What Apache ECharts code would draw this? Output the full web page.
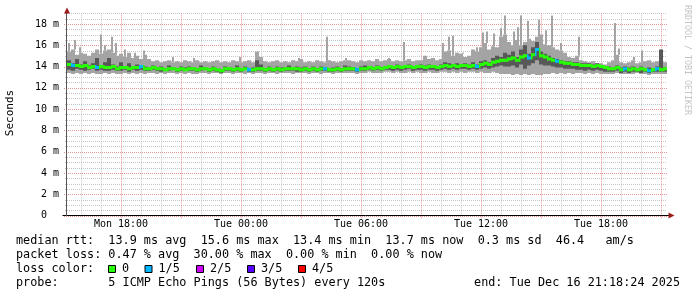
<!DOCTYPE html>
<html><head><meta charset="utf-8">
<script src="https://cdn.jsdelivr.net/npm/echarts@6/dist/echarts.min.js"></script>
<style>html,body{margin:0;padding:0;background:#fff}#c{width:697px;height:297px}</style>
</head><body><div id="c"></div>
<script>
// ---------------- data ----------------
// one sample per 12 minutes (4 pixel columns of 3 minutes)
const MEDIAN = [
14.2,14.1,14.1,14.0,14.1,13.9,14.0,13.9,14.0,13.9,
13.9,14.0,13.8,13.9,13.9,13.8,13.9,13.9,14.0,13.8,
13.8,13.9,13.8,13.8,13.7,13.8,13.8,13.7,13.8,13.7,
13.8,13.8,13.7,13.8,13.8,13.7,13.8,13.7,13.6,13.8,
13.8,13.7,13.8,13.7,13.8,13.7,13.7,13.8,13.8,13.7,
13.8,13.7,13.8,13.7,13.8,13.8,13.8,13.8,13.7,13.8,
13.7,13.8,13.7,13.8,13.8,13.7,13.7,13.8,13.7,13.8,
13.8,13.8,13.7,13.8,13.8,13.9,13.8,13.9,13.8,13.9,
14.0,13.9,14.0,13.9,14.0,14.0,13.9,14.0,14.0,13.9,
14.0,14.0,13.9,14.0,14.1,14.0,14.1,14.0,14.1,14.1,
14.0,14.1,14.0,14.2,14.3,14.2,14.4,14.5,14.6,14.6,
14.7,14.8,14.6,14.9,15.0,14.8,15.1,15.6,15.0,14.9,
14.7,14.6,14.5,14.4,14.3,14.3,14.2,14.2,14.1,14.1,
14.1,14.0,14.1,14.0,13.9,13.8,13.8,13.9,13.7,13.8,
13.7,13.8,13.7,13.8,13.7,13.6,13.7,13.8,13.7,13.8];
const LOW = [
13.4,13.3,13.4,13.3,13.4,13.3,13.4,13.3,13.3,13.4,
13.3,13.4,13.3,13.3,13.4,13.3,13.4,13.3,13.4,13.3,
13.4,13.4,13.3,13.4,13.3,13.4,13.4,13.3,13.4,13.3,
13.4,13.3,13.3,13.4,13.4,13.3,13.4,13.4,13.3,13.4,
13.4,13.3,13.4,13.4,13.3,13.4,13.3,13.4,13.4,13.3,
13.4,13.4,13.3,13.4,13.4,13.4,13.3,13.4,13.4,13.4,
13.3,13.4,13.4,13.3,13.4,13.4,13.3,13.4,13.4,13.4,
13.4,13.4,13.3,13.4,13.4,13.5,13.4,13.4,13.4,13.5,
13.5,13.4,13.5,13.4,13.4,13.5,13.4,13.5,13.4,13.4,
13.5,13.4,13.4,13.5,13.5,13.4,13.5,13.4,13.5,13.4,
13.5,13.5,13.4,13.5,13.4,13.4,13.5,13.4,13.3,13.3,
13.3,13.2,13.3,13.2,13.3,13.2,13.3,13.2,13.2,13.3,
13.3,13.4,13.3,13.4,13.3,13.4,13.3,13.4,13.4,13.3,
13.4,13.3,13.4,13.3,13.3,13.3,13.3,13.4,13.3,13.3,
13.3,13.3,13.4,13.3,13.3,13.2,13.3,13.3,13.3,13.3];
const HIGH = [
15.4,15.6,15.1,15.3,15.2,15.0,15.3,15.6,15.2,15.5,
15.6,15.3,15.0,15.2,14.9,15.3,14.8,15.0,14.7,15.1,
14.7,14.5,14.6,14.4,14.5,14.6,14.4,14.5,14.4,14.6,
14.5,14.4,14.6,14.4,14.5,14.4,14.5,14.6,14.4,14.5,
14.4,14.6,14.5,14.4,14.5,14.6,14.4,15.4,14.9,14.5,
14.4,14.5,14.6,14.4,14.5,14.4,14.6,14.5,14.7,14.4,
14.5,14.4,14.6,14.5,14.4,14.6,14.5,14.4,14.5,14.6,
14.6,14.5,14.4,14.6,14.5,14.6,14.5,14.7,14.5,14.6,
14.7,14.5,14.6,14.5,14.6,14.7,14.5,14.6,14.6,15.0,
14.7,14.8,14.6,14.7,15.4,15.5,15.0,15.3,15.2,14.9,
15.0,15.6,15.4,15.8,16.2,15.6,15.9,15.8,16.8,17.0,
16.3,16.0,16.5,16.0,16.3,16.6,16.4,16.8,17.0,16.1,
16.0,15.8,15.6,15.5,15.3,14.9,14.8,15.0,14.6,14.5,
14.4,14.5,14.3,14.3,14.2,14.4,14.6,15.1,14.4,14.3,
14.4,14.6,14.3,14.4,14.5,14.6,14.4,14.5,14.6,14.4];
const DARK_LO = [
13.7,13.6,13.8,13.7,13.6,13.7,13.8,13.6,13.7,13.6,
13.6,13.7,13.6,13.6,13.7,13.5,13.7,13.6,13.7,13.6,
13.6,13.7,13.6,13.5,13.6,13.6,13.7,13.5,13.6,13.6,
13.6,13.6,13.5,13.6,13.7,13.5,13.6,13.5,13.4,13.6,
13.6,13.5,13.6,13.5,13.7,13.5,13.5,13.6,13.6,13.5,
13.6,13.5,13.6,13.5,13.6,13.6,13.6,13.5,13.5,13.6,
13.5,13.6,13.5,13.6,13.6,13.5,13.5,13.6,13.5,13.6,
13.6,13.6,13.5,13.6,13.6,13.7,13.6,13.7,13.6,13.7,
13.7,13.6,13.7,13.6,13.7,13.8,13.6,13.7,13.7,13.6,
13.7,13.7,13.6,13.7,13.8,13.7,13.8,13.7,13.8,13.8,
13.7,13.8,13.7,13.8,13.9,13.8,13.9,14.0,14.1,14.0,
14.0,14.1,13.9,14.2,13.8,14.1,14.3,14.6,14.2,14.1,
14.1,14.0,13.9,13.9,13.8,13.8,13.8,13.7,13.7,13.6,
13.7,13.6,13.7,13.6,13.5,13.5,13.5,13.6,13.4,13.5,
13.4,13.5,13.5,13.4,13.5,13.4,13.5,13.5,13.5,13.5];
const DARK_HI = [
14.6,14.3,14.7,14.2,14.5,14.1,14.3,14.8,14.1,14.4,
14.8,14.2,14.0,14.4,14.0,14.3,14.0,14.2,14.1,14.0,
13.9,14.1,13.9,14.0,13.8,14.1,13.9,13.8,14.0,13.9,
14.0,13.9,13.8,14.1,13.9,13.8,14.0,13.8,13.7,14.0,
13.9,13.8,14.1,13.8,14.0,13.8,13.9,14.6,14.2,13.8,
14.0,13.8,14.0,13.9,13.9,14.1,13.9,14.0,13.9,14.0,
13.8,14.0,13.8,14.0,13.9,13.8,13.9,14.0,13.8,14.1,
14.0,13.9,13.8,14.0,14.1,14.0,13.9,14.1,13.9,14.0,
14.1,14.0,14.2,14.0,14.1,14.2,14.0,14.1,14.2,14.1,
14.2,14.1,14.0,14.2,14.4,14.3,14.2,14.3,14.2,14.3,
14.2,14.4,14.2,14.5,14.6,14.4,14.8,15.0,14.9,15.3,
15.1,15.4,14.9,15.6,16.0,15.2,15.8,16.3,15.4,15.2,
15.0,14.8,14.7,14.6,14.5,14.5,14.4,14.4,14.3,14.3,
14.3,14.2,14.3,14.1,14.0,14.0,13.9,14.1,13.9,14.0,
13.9,14.0,13.8,14.0,13.8,13.9,13.8,14.0,15.6,13.9];
// samples where pings were lost (count of 5)
const LOSS_AT    = [1,7,18,45,64,72,102,115,117,122,139,145,147];
const LOSS_COUNT = [1,1,1,1,1,1,1,1,1,1,1,1,1];
// narrow spikes of the smoke: pixel column (3 min each) and top value (ms)
const SPIKE_COL = [1,7,12,33,37,44,48,57,67,76,105,126,172,189,231,259,278,321,336,359,375,381,385,395,409,415,419,426,433,437,446,450,453,460,471,478,484,493,511,547,551,566,574];
const SPIKE_TOP = [16.2,16.5,15.8,17.0,16.0,16.8,16.2,15.6,15.3,15.5,14.9,14.8,14.9,15.4,14.8,16.8,14.8,14.8,16.3,15.0,16.2,16.8,16.9,15.3,15.8,17.2,17.3,17.1,17.6,18.8,17.3,17.7,18.8,18.3,18.4,17.4,18.8,16.2,16.8,18.1,15.7,14.9,15.5];

const X_TICK_LABELS = ['Mon 18:00','Tue 00:00','Tue 06:00','Tue 12:00','Tue 18:00'];
const LOSS_LEGEND = ['0','1/5','2/5','3/5','4/5'];
const LOSS_COLORS = ['#26ff00','#00b8ff','#cc00ff','#5500ff','#ff0000'];
const STAT_LINES = [
 'median rtt:  13.9 ms avg  15.6 ms max  13.4 ms min  13.7 ms now  0.3 ms sd  46.4   am/s',
 'packet loss: 0.47 % avg  30.00 % max  0.00 % min  0.00 % now',
 'loss color:',
 'probe:       5 ICMP Echo Pings (56 Bytes) every 120s'
];
const END_TEXT = 'end: Tue Dec 16 21:18:24 2025';
const Y_TITLE = 'Seconds';
const WATERMARK = 'RRDTOOL / TOBI OETIKER';

// ---------------- time axis (pixel columns) ----------------
const DAYS = ['Mon','Tue','Wed'];
const START_MIN = 15*60 + 18.4;   // Mon 15:18:24
const COL_MIN = 3;                // minutes per column
const N_COLS = 601;
const SAMPLE_COLS = 4;
const Y_MAX = 19, Y_MINOR = 0.5, Y_MAJOR = 2;
const CATS = [];
for (let k = 0; k < N_COLS; k++) {
  const t = Math.floor(START_MIN + COL_MIN*k);
  const d = Math.floor(t/1440), h = Math.floor((t%1440)/60), m = t%60;
  CATS.push(DAYS[d] + ' ' + String(h).padStart(2,'0') + ':' + String(m).padStart(2,'0'));
}
const hm = v => v.slice(4).split(':').map(Number);
const isHour = (i,v) => hm(v)[1] === 0;
const is3h = (i,v) => { const [h,m] = hm(v); return m === 0 && h % 3 === 0; };
const isMinorHour = (i,v) => isHour(i,v) && !is3h(i,v);
const isLabel = (i,v) => X_TICK_LABELS.includes(v);

// grid lines, derived from the axes
const VGRID = [];
CATS.forEach((v,i) => { if (isHour(i,v)) VGRID.push([i, is3h(i,v) ? 1 : 0]); });
const HGRID = [];
for (let j = 0; j * Y_MINOR <= Y_MAX + 1e-9; j++) {
  const v = j * Y_MINOR;
  HGRID.push([v, Math.abs(v / Y_MAJOR - Math.round(v / Y_MAJOR)) < 1e-9 && v < Y_MAX ? 1 : 0]);
}

// ---------------- layout ----------------
const L = 67, W = 600, Y0 = 215.5, PXM = 10.642;
const MONO = '"DejaVu Sans Mono", monospace';
const TXT_FONT = '11.8px ' + MONO;
const GRAY_GRID = '#c6c6c6', RED_GRID = '#e89494';

const lossMap = {};
LOSS_AT.forEach((i,j) => lossMap[i] = LOSS_COUNT[j]);
const smokeData = MEDIAN.map((m,i) => [i*SAMPLE_COLS, LOW[i], HIGH[i], DARK_LO[i], DARK_HI[i], m, lossMap[i] || 0]);
const spikeData = SPIKE_COL.map((c,j) => [c, HIGH[Math.min(HIGH.length-1, Math.floor(c/SAMPLE_COLS))], SPIKE_TOP[j]]);

function renderSmoke(params, api) {
  const k = api.value(0);
  const x0 = api.coord([k, 0])[0], x1 = api.coord([k + SAMPLE_COLS, 0])[0];
  const y = v => api.coord([k, v])[1];
  const w = x1 - x0;
  const lo = y(api.value(1)), hi = y(api.value(2));
  const dlo = y(api.value(3)), dhi = y(api.value(4));
  const ym = y(api.value(5));
  const col = LOSS_COLORS[api.value(6)];
  const ch = [
    {type:'rect', shape:{x:x0, y:hi, width:w, height:lo-hi}, style:{fill:'#a4a4a4'}},
    {type:'rect', shape:{x:x0, y:dhi, width:w, height:dlo-dhi}, style:{fill:'#585858'}},
  ];
  const i = params.dataIndex;
  if (i > 0) {
    const yp = y(MEDIAN[i-1]);
    ch.push({type:'rect', shape:{x:x0, y:Math.min(yp,ym)-1.5, width:1.5, height:Math.abs(yp-ym)+3}, style:{fill:col}});
  }
  ch.push({type:'rect', shape:{x:x0, y:ym-1.5, width:w, height:3}, style:{fill:col}});
  return {type:'group', children: ch};
}
function renderSpike(params, api) {
  const k = api.value(0);
  const p0 = api.coord([k, api.value(1)]), p1 = api.coord([k, api.value(2)]);
  return {type:'rect', shape:{x:p0[0], y:p1[1], width:2, height:Math.max(0, p0[1]-p1[1])}, style:{fill:'#a4a4a4'}};
}
function renderVGrid(params, api) {
  const k = api.value(0), major = api.value(1);
  const pb = api.coord([k, 0]), pt = api.coord([k, Y_MAX]);
  const x = Math.round(pb[0]) + 0.5;
  return {type:'line', shape:{x1:x, y1:pt[1], x2:x, y2:pb[1] + (major ? 3 : 2)},
    style:{stroke: major ? RED_GRID : GRAY_GRID, lineWidth:1, lineDash:[1,1]}};
}
function renderHGrid(params, api) {
  const v = api.value(0), major = api.value(1);
  const pl = api.coord([0, v]), pr = api.coord([N_COLS - 1, v]);
  const y = Math.round(pl[1]) + 0.5;
  return {type:'line', shape:{x1:pl[0] - (major ? 3 : 2), y1:y, x2:pr[0], y2:y},
    style:{stroke: major ? RED_GRID : GRAY_GRID, lineWidth:1, lineDash:[1,1]}};
}

const chart = echarts.init(document.getElementById('c'), null, {renderer:'canvas'});
const txt = (text, x, y, align) => ({type:'text', x, y, silent:true,
  style:{text, font:TXT_FONT, fill:'#000', verticalAlign:'middle', align: align || 'left'}});

const graphics = [];
STAT_LINES.forEach((s,j) => graphics.push(txt(s, 16, 241 + 14*j)));
graphics.push(txt(END_TEXT, 680, 283, 'right'));
const BOX_X = [108,144.5,196,247,298], LBL_X = [122,158.5,210,261,312];
LOSS_LEGEND.forEach((s,j) => {
  graphics.push({type:'rect', shape:{x:BOX_X[j]+0.5, y:265.5, width:7, height:7}, style:{fill:LOSS_COLORS[j], stroke:'#000', lineWidth:1}, silent:true});
  graphics.push(txt(s, LBL_X[j], 269));
});
graphics.push({type:'text', x:10, y:113, rotation:Math.PI/2, silent:true,
  style:{text:Y_TITLE, font:'11px ' + MONO, fill:'#000', align:'center', verticalAlign:'middle'}});
graphics.push({type:'text', x:687, y:60, rotation:-Math.PI/2, silent:true,
  style:{text:WATERMARK, font:'8.3px ' + MONO, fill:'#c4c4c4', align:'center', verticalAlign:'middle'}});
// axis lines and arrows
graphics.push({type:'line', shape:{x1:62.5, y1:215.5, x2:669, y2:215.5}, style:{stroke:'#000', lineWidth:1}, z:10, silent:true});
graphics.push({type:'line', shape:{x1:66.5, y1:12, x2:66.5, y2:216}, style:{stroke:'#555', lineWidth:1}, z:10, silent:true});
graphics.push({type:'polygon', shape:{points:[[67,7.5],[64,13.5],[70,13.5]]}, style:{fill:'#9c1c1c'}, z:10, silent:true});
graphics.push({type:'polygon', shape:{points:[[674.5,215.5],[668.5,212.5],[668.5,218.5]]}, style:{fill:'#9c1c1c'}, z:10, silent:true});

chart.setOption({
  animation:false,
  backgroundColor:'#fff',
  grid:[
    {left:L, width:W, top:Y0-Y_MAX*PXM, height:Y_MAX*PXM, containLabel:false, outerBoundsMode:'none'},
    {left:L, width:W, top:Y0-18*PXM, height:18*PXM, containLabel:false, outerBoundsMode:'none'}
  ],
  xAxis:[
    {gridIndex:0, type:'category', data:CATS, boundaryGap:false, position:'bottom',
      axisLine:{show:false}, axisTick:{show:false},
      axisLabel:{show:true, interval:isLabel, formatter:v => v, margin:4, fontFamily:MONO, fontSize:10, color:'#000'},
      splitLine:{show:false}},
    {gridIndex:1, type:'value', show:false, min:0, max:1}
  ],
  yAxis:[
    {gridIndex:0, type:'value', min:0, max:Y_MAX,
      axisLine:{show:false}, axisTick:{show:false}, axisLabel:{show:false}, splitLine:{show:false}},
    {gridIndex:1, type:'value', min:0, max:18, interval:Y_MAJOR,
      axisLine:{show:false}, axisTick:{show:false},
      axisLabel:{show:true, margin:8, fontFamily:MONO, fontSize:10, color:'#000',
        formatter:v => v === 0 ? '0  ' : v + ' m'},
      splitLine:{show:false}}
  ],
  series:[
    {type:'custom', name:'hgrid', xAxisIndex:0, yAxisIndex:0, renderItem:renderHGrid, data:HGRID, clip:false, z:1, silent:true},
    {type:'custom', name:'vgrid', xAxisIndex:0, yAxisIndex:0, renderItem:renderVGrid, data:VGRID, clip:false, z:1, silent:true},
    {type:'custom', name:'spikes', xAxisIndex:0, yAxisIndex:0, renderItem:renderSpike, data:spikeData, clip:true, z:2, silent:true},
    {type:'custom', name:'smoke', xAxisIndex:0, yAxisIndex:0, renderItem:renderSmoke, data:smokeData, clip:true, z:3, silent:true}
  ],
  graphic: graphics
});
</script></body></html>
